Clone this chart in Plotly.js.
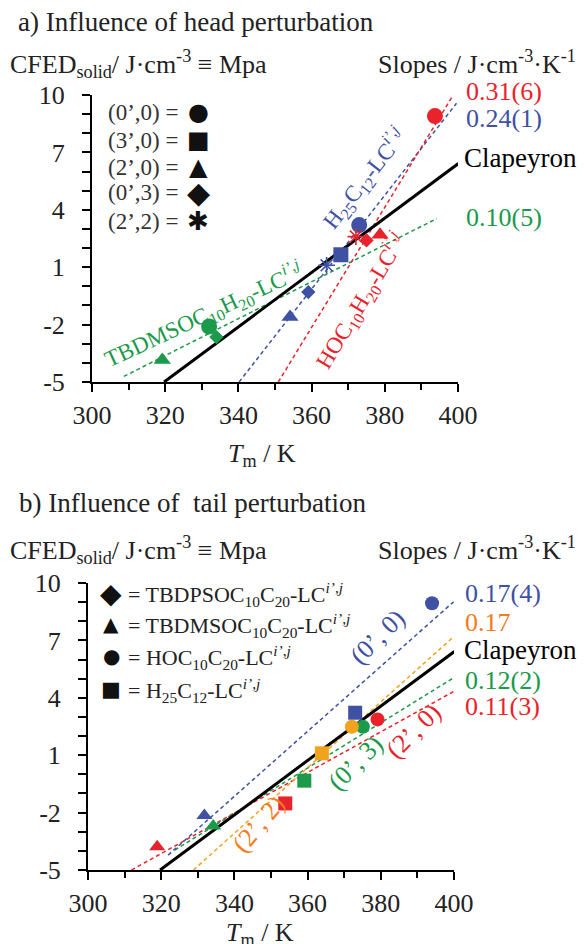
<!DOCTYPE html>
<html>
<head>
<meta charset="utf-8">
<script src="https://cdn.plot.ly/plotly-3.0.1.min.js"></script>
<style>html,body{margin:0;padding:0;background:#fff;}#chart{width:585px;height:944px;}</style>
</head>
<body>
<div id="chart"></div>
<script>
// ---------- data ----------
const xTickVals = [300, 320, 340, 360, 380, 400];
const xTickText = ['300', '320', '340', '360', '380', '400'];
const yTickVals = [-5, -2, 1, 4, 7, 10];
const yTickText = ['-5', '-2', '1', '4', '7', '10'];

// (a) head perturbation: series by head group, points labelled by perturbation
const headRedT = [393.7, 372.1, 375.0, 378.7];
const headRedCFED = [8.9, 2.6, 2.4, 2.7];
const headRedPert = ["0'0", "2'2", "0'3", "2'0"];
const headBlueT = [373.0, 368.0, 364.1, 359.1, 354.1];
const headBlueCFED = [3.2, 1.65, 1.1, -0.3, -1.6];
const headBluePert = ["0'0", "3'0", "2'2", "0'3", "2'0"];
const headGreenT = [332.0, 334.0, 319.2];
const headGreenCFED = [-2.1, -2.65, -3.85];
const headGreenPert = ["0'0", "0'3", "2'0"];

const headRedFitT = [350.9, 398.7], headRedFitY = [-5, 10.0];
const headBlueFitT = [340.2, 399.6], headBlueFitY = [-5, 9.57];
const headGreenFitT = [308.7, 394.2], headGreenFitY = [-4.71, 3.54];
const clapeyronT = [319.7, 400.1], clapeyronY = [-5, 6.42];

// (b) tail perturbation: series by perturbation, points labelled by head group
const tailBlueT = [394.0, 373.0, 331.8];
const tailBlueCFED = [8.94, 3.22, -2.15];
const tailBlueHead = ['HOC', 'H25', 'TBDMS'];
const tailOrangeT = [372.1, 363.9];
const tailOrangeCFED = [2.49, 1.10];
const tailOrangeHead = ['HOC', 'H25'];
const tailGreenT = [375.1, 359.1, 334.2];
const tailGreenCFED = [2.49, -0.33, -2.7];
const tailGreenHead = ['HOC', 'H25', 'TBDMS'];
const tailRedT = [379.1, 353.9, 318.9];
const tailRedCFED = [2.87, -1.52, -3.78];
const tailRedHead = ['HOC', 'H25', 'TBDMS'];

const tailBlueFitT = [321.9, 399.9], tailBlueFitY = [-4.22, 9.02];
const tailOrangeFitT = [328.8, 399.9], tailOrangeFitY = [-5, 7.19];
const tailGreenFitT = [323.7, 400.1], tailGreenFitY = [-3.96, 5.07];
const tailRedFitT = [311.9, 400.1], tailRedFitY = [-5, 4.35];

// legend entries
const headLegendText = ['(0’,0) =', '(3’,0) =', '(2’,0) =', '(0’,3) =', '(2’,2) ='];
const headLegendSym = ['●', '■', '▲', '◆', '✱'];
const tailLegendSym = ['◆', '▲', '●', '■'];
const tailLegendText = ['= TBDPSOC<sub>10</sub>C<sub>20</sub>-', '= TBDMSOC<sub>10</sub>C<sub>20</sub>-', '= HOC<sub>10</sub>C<sub>20</sub>-', '= H<sub>25</sub>C<sub>12</sub>-'];

// ---------- styles ----------
const W = 585, H = 944;
const FONT = 'Liberation Serif, Times New Roman, serif';
const SYMFONT = 'DejaVu Sans, sans-serif';
const RED = '#e8232b', BLUE = '#3f51a3', GREEN = '#1a9a4a', ORANGE = '#f2a31e', ORANGE_T = '#f47b20', INK = '#222';
const pertSym = {"0'0": 'circle', "3'0": 'square', "2'0": 'triangle-up', "0'3": 'diamond', "2'2": 'asterisk-open'};
const pertSize = {"0'0": 16, "3'0": 15, "2'0": 15, "0'3": 11, "2'2": 14};
const headSym = {HOC: 'circle', H25: 'square', TBDMS: 'triangle-up', TBDPS: 'diamond'};
const headLegendSize = [24, 24, 24, 30, 26];
const tailLegendSize = [28, 20, 20, 21];

function pts(x, y, cats, color, symMap, sizeMap, xa, ya) {
  return {
    type: 'scatter', mode: 'markers', x: x, y: y, xaxis: xa, yaxis: ya, cliponaxis: false,
    hoverinfo: 'skip', showlegend: false,
    marker: {
      color: color, opacity: 1,
      symbol: cats.map(c => symMap[c]),
      size: cats.map(c => sizeMap ? sizeMap[c] : 14),
      line: {color: color, width: cats.map(c => symMap[c] === 'asterisk-open' ? 1.6 : 0)}
    }
  };
}
function fit(x, y, color, xa, ya, solid) {
  return {
    type: 'scatter', mode: 'lines', x: x, y: y, xaxis: xa, yaxis: ya, showlegend: false, hoverinfo: 'skip',
    line: solid ? {color: '#000', width: 3} : {color: color, width: 1.5, dash: '4px,3px'}
  };
}

const traces = [
  fit(headGreenFitT, headGreenFitY, GREEN, 'x', 'y'),
  fit(headBlueFitT, headBlueFitY, BLUE, 'x', 'y'),
  fit(headRedFitT, headRedFitY, RED, 'x', 'y'),
  fit(clapeyronT, clapeyronY, '#000', 'x', 'y', true),
  pts(headGreenT, headGreenCFED, headGreenPert, GREEN, pertSym, pertSize, 'x', 'y'),
  pts(headBlueT, headBlueCFED, headBluePert, BLUE, pertSym, pertSize, 'x', 'y'),
  pts(headRedT, headRedCFED, headRedPert, RED, pertSym, pertSize, 'x', 'y'),

  fit(tailRedFitT, tailRedFitY, RED, 'x2', 'y2'),
  fit(tailGreenFitT, tailGreenFitY, GREEN, 'x2', 'y2'),
  fit(tailOrangeFitT, tailOrangeFitY, ORANGE, 'x2', 'y2'),
  fit(tailBlueFitT, tailBlueFitY, BLUE, 'x2', 'y2'),
  fit(clapeyronT, clapeyronY, '#000', 'x2', 'y2', true),
  pts(tailRedT, tailRedCFED, tailRedHead, RED, headSym, null, 'x2', 'y2'),
  pts(tailGreenT, tailGreenCFED, tailGreenHead, GREEN, headSym, null, 'x2', 'y2'),
  pts(tailOrangeT, tailOrangeCFED, tailOrangeHead, ORANGE, headSym, null, 'x2', 'y2'),
  pts(tailBlueT, tailBlueCFED, tailBlueHead, BLUE, headSym, null, 'x2', 'y2')
];

function xAxis(domain, anchor) {
  return {
    domain: domain, anchor: anchor, range: [300, 400], showgrid: false, zeroline: false,
    showline: true, linecolor: '#000', linewidth: 2, mirror: false,
    ticks: 'outside', ticklen: 8, tickwidth: 2, tickcolor: '#000',
    tickmode: 'array', tickvals: xTickVals, ticktext: xTickText, ticklabelstandoff: 1,
    minor: {ticks: 'outside', tickmode: 'linear', tick0: 300, dtick: 10, ticklen: 6, tickwidth: 2, tickcolor: '#000'},
    tickfont: {family: FONT, size: 26, color: INK}, fixedrange: true
  };
}
function yAxis(domain, anchor) {
  return {
    domain: domain, anchor: anchor, range: [-5, 10], showgrid: false, zeroline: false,
    showline: true, linecolor: '#000', linewidth: 2,
    ticks: 'outside', ticklen: 8, tickwidth: 2, tickcolor: '#000',
    tickmode: 'array', tickvals: yTickVals, ticktext: yTickText, ticklabelstandoff: 12,
    minor: {ticks: 'outside', tickmode: 'linear', tick0: -5, dtick: 1, ticklen: 8, tickwidth: 2, tickcolor: '#000'},
    tickfont: {family: FONT, size: 26, color: INK}, fixedrange: true
  };
}

function A(px, py, text, o) {
  o = o || {};
  return Object.assign({
    xref: 'paper', yref: 'paper', x: px / W, y: 1 - py / H, text: text, showarrow: false,
    xanchor: 'left', yanchor: 'middle', font: {family: FONT, size: 26, color: INK}
  }, o);
}
const LC = 'LC<sup><i>i’</i>,<i>j</i></sup>';
const annotations = [
  // panel a
  A(16, 22, 'a) Influence of head perturbation', {font: {family: FONT, size: 27, color: INK}}),
  A(8, 64, 'CFED<sub>solid</sub>/ J·cm<sup>-3</sup> ≡ Mpa'),
  A(578, 62, 'Slopes / J·cm<sup>-3</sup>·K<sup>-1</sup>', {xanchor: 'right'}),
  A(464, 91, '0.31(6)', {font: {family: FONT, size: 26, color: RED}}),
  A(464, 118, '0.24(1)', {font: {family: FONT, size: 26, color: BLUE}}),
  A(462, 158, 'Clapeyron', {font: {family: FONT, size: 27, color: '#000'}}),
  A(464, 218, '0.10(5)', {font: {family: FONT, size: 26, color: GREEN}}),
  A(364, 178, 'H<sub>25</sub>C<sub>12</sub>-' + LC, {xanchor: 'center', textangle: -52, font: {family: FONT, size: 23, color: BLUE}}),
  A(360, 301, 'HOC<sub>10</sub>H<sub>20</sub>-' + LC, {xanchor: 'center', textangle: -59, font: {family: FONT, size: 23, color: RED}}),
  A(204, 315, 'TBDMSOC<sub>10</sub>H<sub>20</sub>-' + LC, {xanchor: 'center', textangle: -25, font: {family: FONT, size: 23, color: GREEN}}),
  A(262, 455, '<i>T</i><sub>m</sub> / K', {xanchor: 'center'}),
  // panel b
  A(17, 503, 'b) Influence of\u00a0 tail perturbation', {font: {family: FONT, size: 27, color: INK}}),
  A(8, 550, 'CFED<sub>solid</sub>/ J·cm<sup>-3</sup> ≡ Mpa'),
  A(578, 548, 'Slopes / J·cm<sup>-3</sup>·K<sup>-1</sup>', {xanchor: 'right'}),
  A(463, 593, '0.17(4)', {font: {family: FONT, size: 26, color: BLUE}}),
  A(463, 622, '0.17', {font: {family: FONT, size: 26, color: ORANGE_T}}),
  A(462, 650, 'Clapeyron', {font: {family: FONT, size: 27, color: '#000'}}),
  A(463, 680, '0.12(2)', {font: {family: FONT, size: 26, color: GREEN}}),
  A(463, 706, '0.11(3)', {font: {family: FONT, size: 26, color: RED}}),
  A(377, 637, '(0’, 0)', {xanchor: 'center', textangle: -45, font: {family: FONT, size: 26, color: BLUE}}),
  A(413, 731, '(2’, 0)', {xanchor: 'center', textangle: -45, font: {family: FONT, size: 26, color: RED}}),
  A(355, 763, '(0’, 3)', {xanchor: 'center', textangle: -45, font: {family: FONT, size: 26, color: GREEN}}),
  A(258, 824, '(2’, 2)', {xanchor: 'center', textangle: -50, font: {family: FONT, size: 26, color: ORANGE_T}}),
  A(260, 934, '<i>T</i><sub>m</sub> / K', {xanchor: 'center'})
];
const headRows = [112, 140, 167, 193, 221];
headLegendText.forEach((t, i) => {
  annotations.push(A(106, headRows[i], t, {font: {family: FONT, size: 23, color: '#333'}}));
  annotations.push(A(198, headRows[i], headLegendSym[i], {xanchor: 'center', font: {family: SYMFONT, size: headLegendSize[i], color: '#111'}}));
});
const tailRows = [593, 624, 656, 689];
tailLegendText.forEach((t, i) => {
  annotations.push(A(111, tailRows[i], tailLegendSym[i], {xanchor: 'center', font: {family: SYMFONT, size: tailLegendSize[i], color: '#111'}}));
  annotations.push(A(126, tailRows[i] + 1, t + LC, {font: {family: FONT, size: 22, color: INK}}));
});

const layout = {
  width: W, height: H, margin: {l: 0, r: 0, t: 0, b: 0},
  paper_bgcolor: '#fff', plot_bgcolor: '#fff', showlegend: false,
  font: {family: FONT, color: INK},
  xaxis: xAxis([92 / W, 458 / W], 'y'),
  yaxis: yAxis([1 - 382 / H, 1 - 95 / H], 'x'),
  xaxis2: xAxis([88 / W, 454 / W], 'y2'),
  yaxis2: yAxis([1 - 870 / H, 1 - 583 / H], 'x2'),
  annotations: annotations
};
Plotly.newPlot('chart', traces, layout, {staticPlot: true, displayModeBar: false});
</script>
</body>
</html>
